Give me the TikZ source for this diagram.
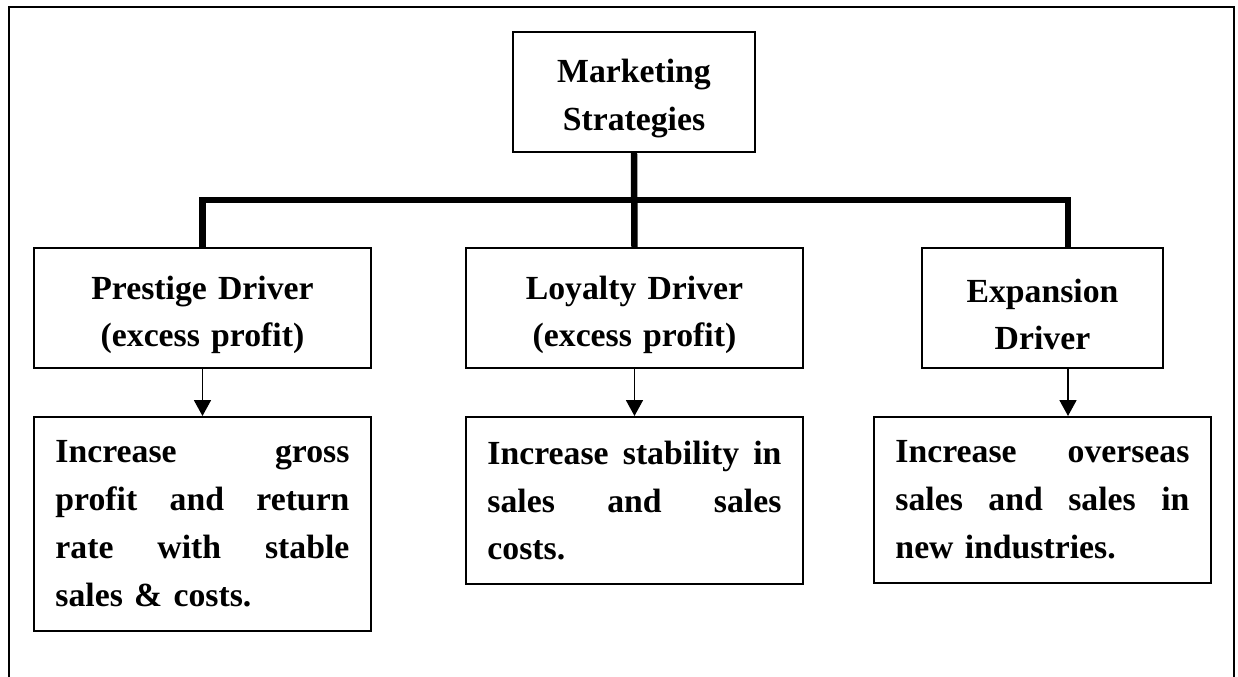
\documentclass[tikz,border=0pt]{standalone}
\usepackage{fontspec}
\setmainfont{Liberation Serif}
\usepackage{tikz}
\usetikzlibrary{arrows.meta,positioning,calc}
\tikzset{>={Triangle[width=6pt,length=5.6pt]}}
\tikzset{
    headbox/.style={draw, line width=0.7pt, minimum height=1.5cm, text width=#1, align=center,
        font=\bfseries\fontsize{12}{16.8}\selectfont,
        execute at begin node={\rule{0pt}{13pt}}},
    goalbox/.style={draw, line width=0.7pt, text width=3.675cm, inner xsep=0.269cm,
        inner ysep=8.5pt, align=left, font=\bfseries\fontsize{12}{17}\selectfont},
    bus/.style={line width=2.3pt},
    feed/.style={->, line width=0.5pt}
}

\begin{document}
\begin{tikzpicture}
    \useasboundingbox (0,0) rectangle (15.475,8.4625);
    % frame, open at the bottom
    \draw[line width=0.8pt] (0.1125,0) |- (15.425,8.375) -- (15.425,0);

    \node[headbox=2.79cm] (mkt)  at (7.925,7.3125) {Marketing\\Strategies};
    \node[headbox=3.98cm] (pres) at (2.531,4.6125) {Prestige Driver\\(excess profit)};
    \node[headbox=3.98cm] (loy)  at (7.931,4.6125) {Loyalty Driver\\(excess profit)};
    \node[headbox=2.78cm] (exp)  at (13.031,4.6125) {Expansion\\Driver};

    \node[goalbox, below=0.5875cm of pres] (presg)
        {Increase\hfill gross\\ profit\hfill and\hfill return\\ rate\hfill with\hfill stable\\ sales \& costs.};
    \node[goalbox, below=0.5875cm of loy] (loyg)
        {Increase\hfill stability\hfill in\\ sales\hfill and\hfill sales\\ costs.};
    \node[goalbox, below=0.5875cm of exp] (expg)
        {Increase\hfill overseas\\ sales\hfill and\hfill sales\hfill in\\ new industries.};

    % bus from the top box to the three drivers
    \coordinate (bus) at ($(mkt.south)!0.5!(loy.north)$);
    \coordinate (expin) at ([xshift=0.319cm]exp.north);
    \draw[bus] (mkt.south) -- (loy.north);
    \draw[bus] (pres.north) |- (bus) -| (expin);

    \draw[feed] (pres) -- (presg);
    \draw[feed] (loy) -- (loyg);
    \draw[feed] (exp.south -| expin) -- (expg.north -| expin);
\end{tikzpicture}
\end{document}
